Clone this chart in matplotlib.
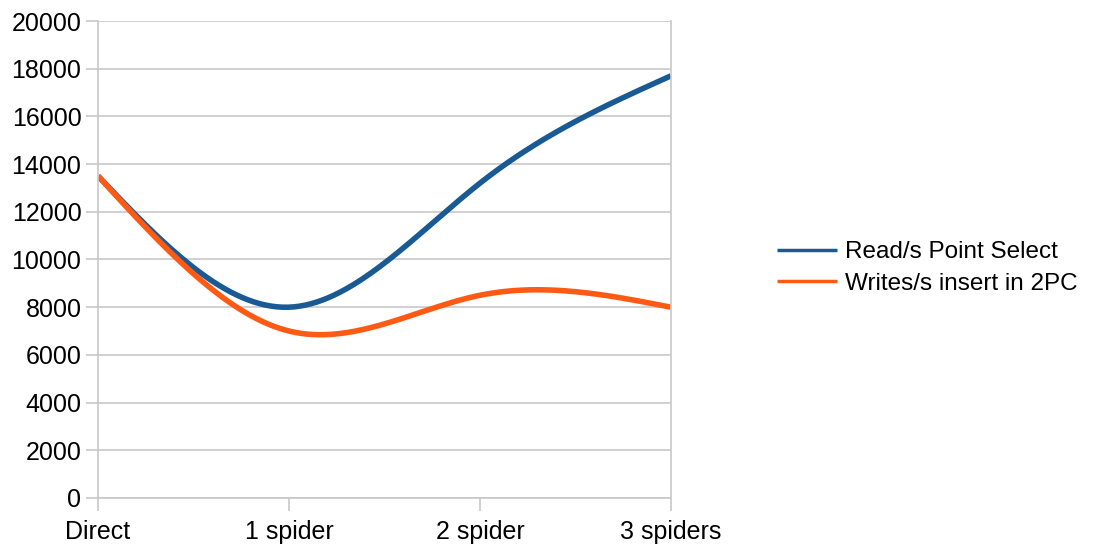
import numpy as np
import matplotlib
matplotlib.use("Agg")
import matplotlib.pyplot as plt

# categories and series
categories = ["Direct", "1 spider", "2 spider", "3 spiders"]
reads = [13500, 8000, 13200, 17700]
writes = [13500, 7000, 8500, 8000]
labels = ["Read/s Point Select", "Writes/s insert in 2PC"]
colors = ["#1a5a94", "#ff5a14"]


def natural_spline(x, y, n=200):
    # natural cubic spline through the points, like the spreadsheet smoothing
    x = np.asarray(x, float)
    y = np.asarray(y, float)
    k = len(x)
    h = np.diff(x)
    A = np.zeros((k, k))
    r = np.zeros(k)
    A[0, 0] = A[-1, -1] = 1
    for i in range(1, k - 1):
        A[i, i - 1] = h[i - 1]
        A[i, i] = 2 * (h[i - 1] + h[i])
        A[i, i + 1] = h[i]
        r[i] = 3 * ((y[i + 1] - y[i]) / h[i] - (y[i] - y[i - 1]) / h[i - 1])
    c = np.linalg.solve(A, r)
    xs = np.linspace(x[0], x[-1], n)
    ys = np.empty_like(xs)
    for j, t in enumerate(xs):
        i = min(np.searchsorted(x, t, side="right") - 1, k - 2)
        d = t - x[i]
        b = (y[i + 1] - y[i]) / h[i] - h[i] * (2 * c[i] + c[i + 1]) / 3
        dd = (c[i + 1] - c[i]) / (3 * h[i])
        ys[j] = y[i] + b * d + c[i] * d ** 2 + dd * d ** 3
    return xs, ys


plt.rcParams["font.family"] = ["Liberation Sans", "DejaVu Sans"]

fig = plt.figure(figsize=(10.98, 5.47), dpi=100)
ax = fig.add_axes([0.0893, 0.0896, 0.5217, 0.872])

x = np.arange(len(categories))
for vals, lab, col in zip([reads, writes], labels, colors):
    xs, ys = natural_spline(x, vals)
    ax.plot(xs, ys, color=col, lw=4, label=lab, solid_capstyle="butt")

ax.set_xlim(0, 3)
ax.set_ylim(0, 20000)
ax.set_yticks(np.arange(0, 20001, 2000))
ax.set_xticks(x)
ax.set_xticklabels(categories)
ax.grid(axis="y", color="#c8c8c8", lw=1.2)
ax.set_axisbelow(True)
ax.spines["top"].set_visible(False)
for side in ["left", "right", "bottom"]:
    ax.spines[side].set_color("#c8c8c8")
    ax.spines[side].set_linewidth(1.2)
ax.tick_params(axis="both", colors="#c8c8c8", labelcolor="black",
               labelsize=18, length=9, width=1.2)
ax.tick_params(axis="x", pad=7)
ax.tick_params(axis="y", pad=3)

leg = fig.legend(loc="center left", bbox_to_anchor=(0.708, 0.51),
                 frameon=False, fontsize=17.5, handlelength=2.45,
                 handletextpad=0.33, labelspacing=0.4, borderpad=0,
                 borderaxespad=0)
for line in leg.get_lines():
    line.set_linewidth(2.5)

fig.savefig("out.png", dpi=100)
